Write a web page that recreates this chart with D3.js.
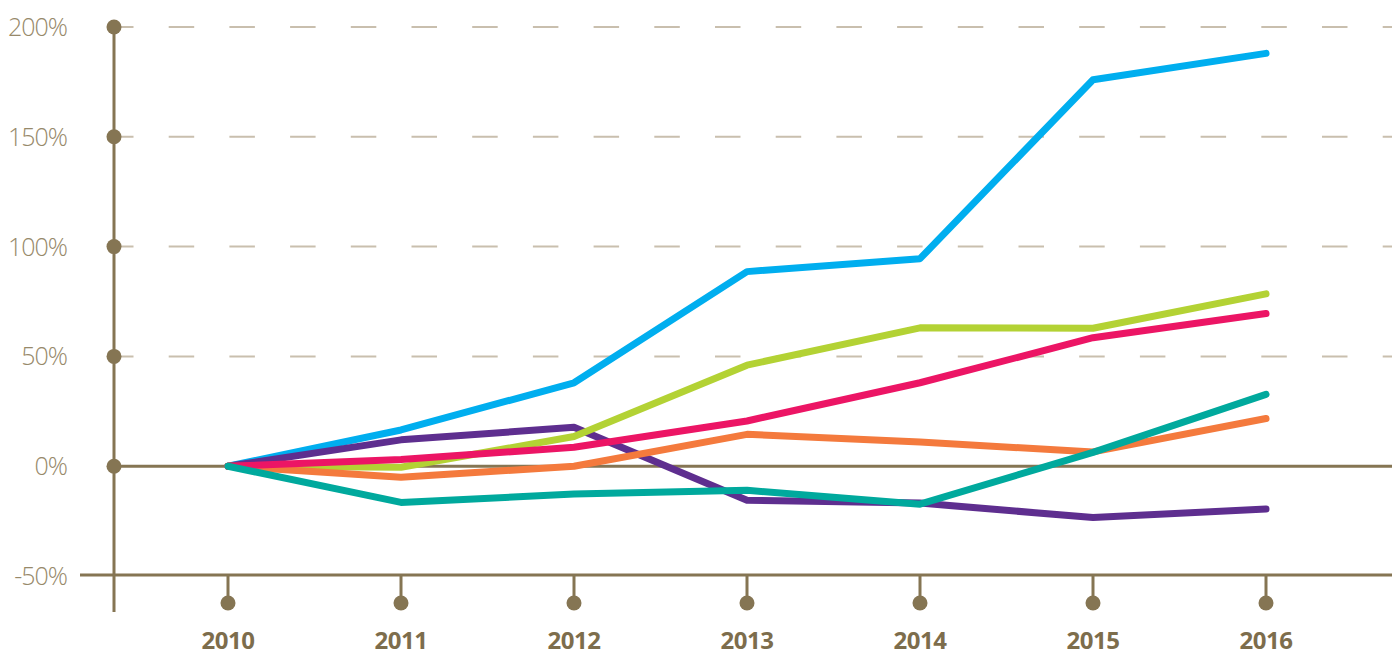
<!DOCTYPE html>
<html>
<head>
<meta charset="utf-8">
<script src="https://cdn.jsdelivr.net/npm/d3@7"></script>
<style>
  body { margin: 0; background: #fff; }
</style>
</head>
<body>
<div class="canvas"></div>
<script>
const years = [2010, 2011, 2012, 2013, 2014, 2015, 2016];
const yTicks = [-50, 0, 50, 100, 150, 200];
const gridTicks = [50, 100, 150, 200];

// percent change vs 2010
const blue   = [0, 16.5, 38, 88.6, 94.5, 176, 188];
const purple = [0, 12, 17.7, -15.5, -16.8, -23.4, -19.5];
const green  = [0, -0.5, 13.5, 46, 63, 62.8, 78.5];
const orange = [0, -5, 0, 14.5, 11, 6.5, 21.7];
const pink   = [0, 3, 8.6, 20.6, 38, 58.5, 69.5];
const teal   = [0, -16.5, -12.7, -11, -17.3, 6.3, 32.7];

const seriesNames = ["blue", "purple", "green", "orange", "pink", "teal"];
const seriesValues = [blue, purple, green, orange, pink, teal];
const seriesColors = ["#00aeef", "#5e2e8f", "#b3d234", "#f47a3d", "#ec1565", "#00a99d"];

const width = 1392, height = 657;
const axisColor = "#857553";

const x = d3.scalePoint().domain(years).range([228, 1266]);
const y = d3.scaleLinear().domain([-50, 200]).range([576, 27]);
const axisX = 114;

const svg = d3.select(".canvas")
  .append("svg")
  .attr("width", width)
  .attr("height", height)
  .attr("viewBox", [0, 0, width, height]);

// dashed grid
svg.append("g")
  .selectAll("line")
  .data(gridTicks)
  .join("line")
  .attr("x1", 108)
  .attr("x2", width)
  .attr("y1", d => y(d))
  .attr("y2", d => y(d))
  .attr("stroke", "#c9bfae")
  .attr("stroke-width", 2)
  .attr("stroke-dasharray", "25.5 35.2");

// zero line
svg.append("line")
  .attr("x1", axisX).attr("x2", width)
  .attr("y1", y(0)).attr("y2", y(0))
  .attr("stroke", axisColor).attr("stroke-width", 3);

// bottom axis line
svg.append("line")
  .attr("x1", 80).attr("x2", width)
  .attr("y1", y(-50) - 1).attr("y2", y(-50) - 1)
  .attr("stroke", axisColor).attr("stroke-width", 3);

// y axis vertical
svg.append("line")
  .attr("x1", axisX).attr("x2", axisX)
  .attr("y1", y(200)).attr("y2", 612)
  .attr("stroke", axisColor).attr("stroke-width", 3);

// y dots (not on -50)
svg.append("g")
  .selectAll("circle")
  .data(yTicks.filter(d => d > -50))
  .join("circle")
  .attr("cx", axisX)
  .attr("cy", d => y(d))
  .attr("r", 7.5)
  .attr("fill", axisColor);

// y labels
svg.append("g")
  .selectAll("text")
  .data(yTicks)
  .join("text")
  .attr("x", 67)
  .attr("y", d => y(d) + 9)
  .attr("text-anchor", "end")
  .attr("font-family", "'Open Sans', sans-serif")
  .attr("font-weight", 300)
  .attr("font-size", 25)
  .attr("letter-spacing", -1)
  .attr("fill", "#97896a")
  .text(d => d + "%");

// x ticks
const xt = svg.append("g")
  .selectAll("g")
  .data(years)
  .join("g")
  .attr("transform", d => `translate(${x(d)},0)`);

xt.append("line")
  .attr("y1", y(-50)).attr("y2", 603)
  .attr("stroke", axisColor).attr("stroke-width", 3);

xt.append("circle")
  .attr("cy", 603).attr("r", 7.5)
  .attr("fill", axisColor);

xt.append("text")
  .attr("y", 649)
  .attr("text-anchor", "middle")
  .attr("font-family", "'Open Sans', sans-serif")
  .attr("font-weight", 700)
  .attr("font-size", 24)
  .attr("letter-spacing", -0.5)
  .attr("fill", "#7d6d4c")
  .text(d => d);

// series lines
const line = d3.line()
  .x((d, i) => x(years[i]))
  .y(d => y(d));

svg.append("g")
  .selectAll("path")
  .data(seriesValues)
  .join("path")
  .attr("d", line)
  .attr("fill", "none")
  .attr("stroke", (d, i) => seriesColors[i])
  .attr("stroke-width", 7)
  .attr("stroke-linecap", "round")
  .attr("stroke-linejoin", "round");
</script>
</body>
</html>
